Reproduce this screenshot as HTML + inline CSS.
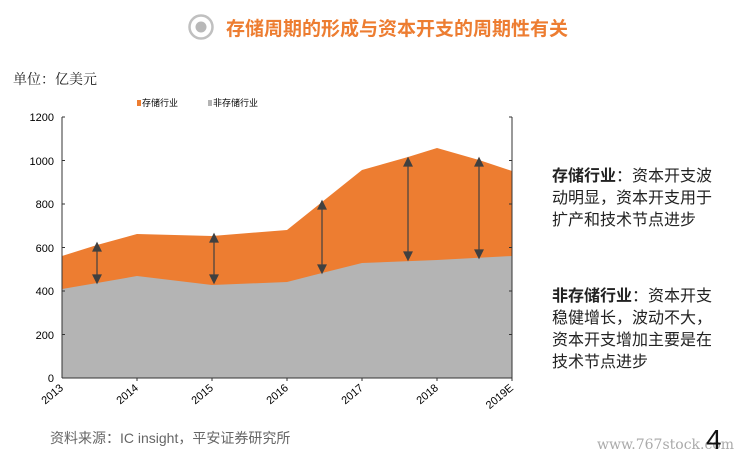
<!DOCTYPE html>
<html><head><meta charset="utf-8"><style>
body{margin:0;width:738px;height:461px;background:#fff;overflow:hidden;position:relative;font-family:"Liberation Sans","Noto Sans CJK SC",sans-serif}
.t{position:absolute;white-space:nowrap}
</style></head><body>
<svg width="738" height="461" style="position:absolute;left:0;top:0">
<circle cx="201" cy="27" r="11.5" fill="none" stroke="#c0c0c0" stroke-width="2.5"/>
<circle cx="201" cy="27" r="5.5" fill="#b8b8b8"/>
<polygon fill="#ED7D31" points="62,256 97,245 137,234 212,236 287,230 362,170 408,157 437,148 479,160 512,171 512,378 62,378"/>
<polygon fill="#B4B4B4" points="62,289 97,283 137,276 212,285 287,282 322,273 362,263 437,260 512,256 512,378 62,378"/>
<g stroke="#333" stroke-width="1" fill="none">
<line x1="62" y1="117" x2="62" y2="378"/>
<line x1="512" y1="117" x2="512" y2="378"/>
<line x1="62" y1="378" x2="512" y2="378"/>
</g>
<g stroke="#333" stroke-width="1">
<line x1="62" y1="117" x2="65" y2="117"/><line x1="62" y1="160.5" x2="65" y2="160.5"/><line x1="62" y1="204" x2="65" y2="204"/><line x1="62" y1="247.5" x2="65" y2="247.5"/><line x1="62" y1="291" x2="65" y2="291"/><line x1="62" y1="334.5" x2="65" y2="334.5"/>
<line x1="509" y1="117" x2="512" y2="117"/><line x1="509" y1="160.5" x2="512" y2="160.5"/><line x1="509" y1="204" x2="512" y2="204"/><line x1="509" y1="247.5" x2="512" y2="247.5"/><line x1="509" y1="291" x2="512" y2="291"/><line x1="509" y1="334.5" x2="512" y2="334.5"/>
<line x1="137" y1="378" x2="137" y2="381"/><line x1="212" y1="378" x2="212" y2="381"/><line x1="287" y1="378" x2="287" y2="381"/><line x1="362" y1="378" x2="362" y2="381"/><line x1="437" y1="378" x2="437" y2="381"/><line x1="512" y1="378" x2="512" y2="381"/>
</g>
<g stroke="#404040" stroke-width="1.2" fill="#404040">
<line x1="97" y1="246" x2="97" y2="281"/><polygon points="97,243 93,251 101,251"/><polygon points="97,283 93,275 101,275"/>
<line x1="214" y1="237" x2="214" y2="281"/><polygon points="214,234 210,242 218,242"/><polygon points="214,283 210,275 218,275"/>
<line x1="322" y1="204" x2="322" y2="271"/><polygon points="322,201 318,209 326,209"/><polygon points="322,273 318,265 326,265"/>
<line x1="408" y1="161" x2="408" y2="258"/><polygon points="408,158 404,166 412,166"/><polygon points="408,260 404,252 412,252"/>
<line x1="479" y1="161" x2="479" y2="256"/><polygon points="479,158 475,166 483,166"/><polygon points="479,258 475,250 483,250"/>
</g>
<g font-size="11" fill="#000" text-anchor="end" font-family="Liberation Sans,sans-serif">
<text x="54" y="121">1200</text><text x="54" y="165">1000</text><text x="54" y="208">800</text><text x="54" y="252">600</text><text x="54" y="295">400</text><text x="54" y="339">200</text><text x="54" y="382">0</text>
</g>
<g font-size="11" fill="#000" text-anchor="end" font-family="Liberation Sans,sans-serif">
<text transform="translate(64,389) rotate(-40)">2013</text>
<text transform="translate(139,389) rotate(-40)">2014</text>
<text transform="translate(214,389) rotate(-40)">2015</text>
<text transform="translate(289,389) rotate(-40)">2016</text>
<text transform="translate(364,389) rotate(-40)">2017</text>
<text transform="translate(439,389) rotate(-40)">2018</text>
<text transform="translate(514,389) rotate(-40)">2019E</text>
</g>
<rect x="137" y="100" width="4" height="6" fill="#ED7D31"/>
<rect x="208" y="100" width="4" height="6" fill="#B4B4B4"/>
</svg>
<div class="t" style="left:226px;top:14px;font-size:19px;font-weight:bold;color:#ED7D31">存储周期的形成与资本开支的周期性有关</div>
<div class="t" style="left:13px;top:69px;font-size:14px;color:#222;font-family:'Liberation Serif','Noto Serif CJK SC',serif">单位：亿美元</div>
<div class="t" style="left:142px;top:96px;font-size:9px;color:#000">存储行业</div>
<div class="t" style="left:213px;top:96px;font-size:9px;color:#000">非存储行业</div>
<div class="t" style="left:552px;top:166px;font-size:16px;line-height:22px;color:#222"><b>存储行业</b>：资本开支波<br>动明显，资本开支用于<br>扩产和技术节点进步</div>
<div class="t" style="left:552px;top:286px;font-size:16px;line-height:22px;color:#222"><b>非存储行业</b>：资本开支<br>稳健增长，波动不大，<br>资本开支增加主要是在<br>技术节点进步</div>
<div class="t" style="left:50px;top:428px;font-size:14px;color:#666">资料来源：IC insight，平安证券研究所</div>
<div class="t" style="left:597px;top:437px;font-size:14px;color:#aaa;font-family:'DejaVu Serif',serif">www.767stock.com</div>
<div class="t" style="left:706px;top:424px;font-size:28px;color:#111">4</div>
</body></html>
